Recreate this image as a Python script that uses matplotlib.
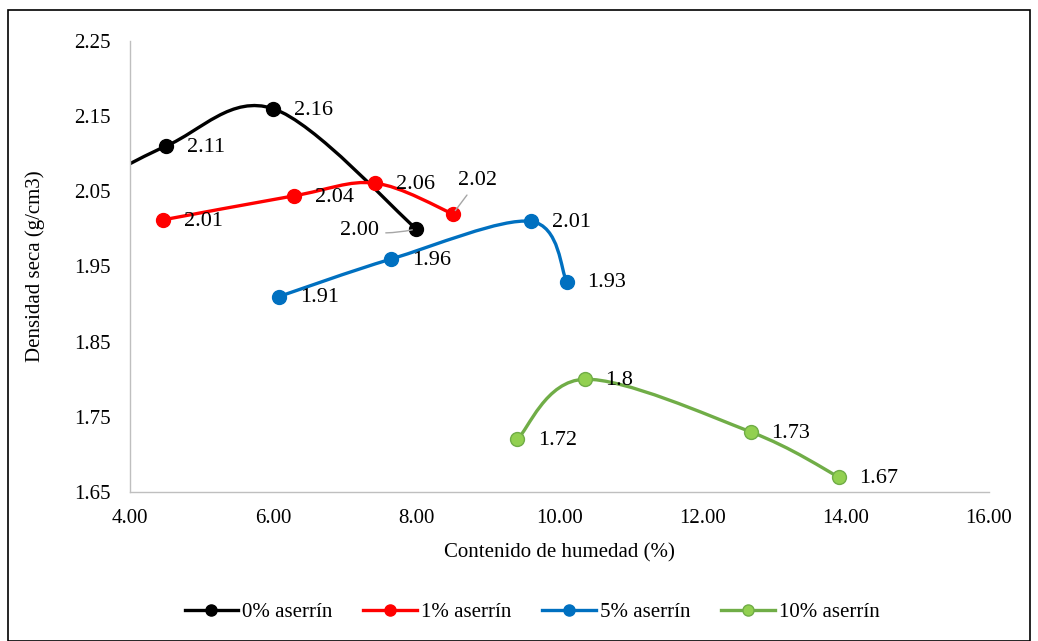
import matplotlib.pyplot as plt
from matplotlib.path import Path
from matplotlib.patches import PathPatch, Rectangle
from matplotlib.lines import Line2D

# data
x_0 = [3.0, 4.5, 6.0, 8.0]
y_0 = [2.035, 2.11, 2.16, 2.00]
lab_0 = ['', '2.11', '2.16', '2.00']

x_1 = [4.46, 6.29, 7.42, 8.51]
y_1 = [2.012, 2.044, 2.061, 2.02]
lab_1 = ['2.01', '2.04', '2.06', '2.02']

x_5 = [6.08, 7.65, 9.60, 10.10]
y_5 = [1.91, 1.96, 2.01, 1.93]
lab_5 = ['1.91', '1.96', '2.01', '1.93']

x_10 = [9.41, 10.35, 12.67, 13.90]
y_10 = [1.72, 1.80, 1.73, 1.67]
lab_10 = ['1.72', '1.8', '1.73', '1.67']

names = ['0% aserrín', '1% aserrín', '5% aserrín', '10% aserrín']
xticks = [4, 6, 8, 10, 12, 14, 16]
yticks = [1.65, 1.75, 1.85, 1.95, 2.05, 2.15, 2.25]

plt.rcParams['font.family'] = ['Liberation Serif', 'DejaVu Serif']
FS = 15
LFS = 16  # data labels


def smooth_path(xs, ys):
    # excel-like smoothed line as cubic bezier segments
    pts = list(zip(xs, ys))
    n = len(pts)
    verts = [pts[0]]
    codes = [Path.MOVETO]
    for i in range(n - 1):
        p0 = pts[i - 1] if i > 0 else pts[i]
        p1 = pts[i]
        p2 = pts[i + 1]
        p3 = pts[i + 2] if i + 2 < n else pts[i + 1]
        c1 = (p1[0] + (p2[0] - p0[0]) / 6, p1[1] + (p2[1] - p0[1]) / 6)
        c2 = (p2[0] - (p3[0] - p1[0]) / 6, p2[1] - (p3[1] - p1[1]) / 6)
        verts += [c1, c2, p2]
        codes += [Path.CURVE4] * 3
    return Path(verts, codes)


fig = plt.figure(figsize=(10.38, 6.41), dpi=100)
ax = fig.add_axes([130 / 1038, 1 - 492 / 641, (989 - 130) / 1038, (492 - 41) / 641])

series = [
    (x_0, y_0, lab_0, 'black', 'black', 'black'),
    (x_1, y_1, lab_1, '#FF0000', '#FF0000', '#FF0000'),
    (x_5, y_5, lab_5, '#0070C0', '#0070C0', '#0070C0'),
    (x_10, y_10, lab_10, '#70AD47', '#92D050', '#70AD47'),
]

handles = []
for (xs, ys, labs, lc, fc, ec), name in zip(series, names):
    patch = PathPatch(smooth_path(xs, ys), facecolor='none', edgecolor=lc, lw=2.4,
                      capstyle='round', joinstyle='round', zorder=2)
    ax.add_patch(patch)
    ax.plot(xs, ys, ls='none', marker='o', ms=10, mfc=fc, mec=ec, mew=1, zorder=3)
    handles.append(Line2D([], [], color=lc, lw=2.4, marker='o', ms=8, mfc=fc, mec=ec))

    for xv, yv, t in zip(xs, ys, labs):
        if not t or t in ('2.00', '2.02'):
            continue
        ax.annotate(t, (xv, yv), xytext=(15, -1), textcoords='offset points',
                    ha='left', va='center', fontsize=LFS)

# labels with leader lines
ax.annotate('2.00', (x_0[3], y_0[3]), xytext=(-27, -1.5), textcoords='offset points',
            ha='right', va='center', fontsize=LFS,
            arrowprops=dict(arrowstyle='-', color='#A6A6A6', lw=1, shrinkA=3, shrinkB=3,
                            connectionstyle='arc3,rad=0.1'))
ax.annotate('2.02', (x_1[3], y_1[3]), xytext=(18, 24), textcoords='offset points',
            ha='center', va='center', fontsize=LFS,
            arrowprops=dict(arrowstyle='-', color='#A6A6A6', lw=1, shrinkA=2, shrinkB=3))

ax.set_xlim(4, 16)
ax.set_ylim(1.65, 2.25)
ax.set_xticks(xticks)
ax.set_xticklabels([f'{v:.2f}' for v in xticks])
ax.set_yticks(yticks)
ax.set_yticklabels([f'{v:.2f}' for v in yticks])
ax.tick_params(length=0, labelsize=FS, pad=12)
ax.tick_params(axis='y', pad=14)

for s in ['top', 'right']:
    ax.spines[s].set_visible(False)
ax.spines['left'].set_color('#BFBFBF')
ax.spines['bottom'].set_color('#BFBFBF')
ax.spines['left'].set_linewidth(1)
ax.spines['bottom'].set_linewidth(1)

ax.set_xlabel('Contenido de humedad (%)', fontsize=FS, labelpad=11)
ax.set_ylabel('Densidad seca (g/cm3)', fontsize=FS, labelpad=21)

fig.legend(handles, names, loc='center', bbox_to_anchor=(532 / 1038, 1 - 612 / 641),
           ncol=4, frameon=False, fontsize=FS, handlelength=2.55, handletextpad=0.2,
           columnspacing=1.5, borderaxespad=0, borderpad=0)

fig.patches.append(Rectangle((8 / 1038, 0), 1022 / 1038, 1 - 10 / 641, transform=fig.transFigure,
                             fill=False, edgecolor='black', lw=1.2))

plt.savefig('out.png', dpi=100)
